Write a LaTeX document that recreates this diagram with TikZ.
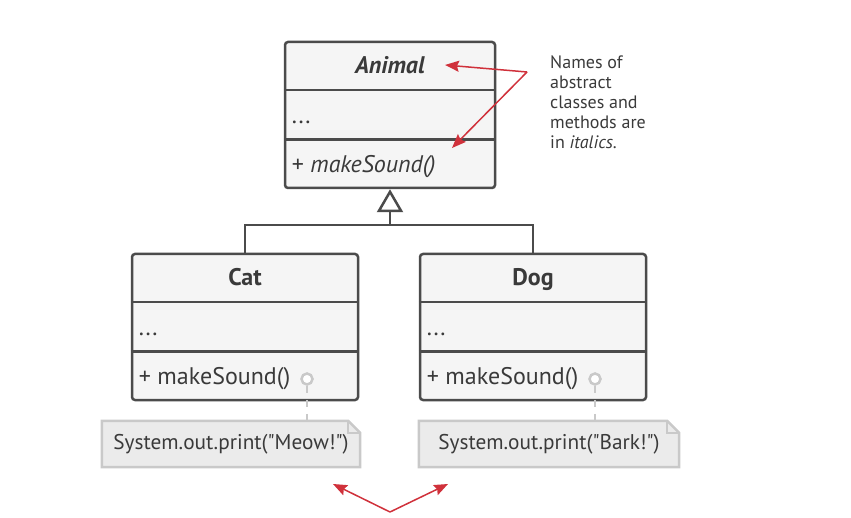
\documentclass[tikz,border=0pt]{standalone}
\usepackage{fontspec}
\setmainfont{PT Sans}
\usetikzlibrary{arrows.meta,backgrounds,calc}
\definecolor{umlline}{HTML}{4B4B4B}
\definecolor{boxfill}{HTML}{F5F5F5}
\definecolor{notefill}{HTML}{EBEBEB}
\definecolor{noteline}{HTML}{C9C9C9}
\definecolor{hintred}{HTML}{D0313B}
\definecolor{textgray}{HTML}{3A3A3A}

\begin{document}
\begin{tikzpicture}[x=1pt,y=-1pt,
    every node/.style={font=\fontsize{24}{28}\selectfont,text=textgray},
    classbox/.style={draw=umlline,fill=boxfill,line width=2.5pt,rounded corners=3pt,
        minimum height=146pt,inner sep=0pt},
    divider/.style={draw=umlline,line width=2.5pt},
    title/.style={inner sep=0pt,text height=17pt,text depth=5pt,yshift=-2.5pt},
    member/.style={anchor=west,inner sep=0pt,xshift=8pt,yshift=-2.5pt,text height=17pt,text depth=5pt},
    notebox/.style={minimum height=46pt,inner sep=0pt,font=\fontsize{21.3}{24}\selectfont},
    noteshape/.style={draw=noteline,fill=notefill,line width=2.5pt,line join=miter},
    port/.style={circle,draw=noteline,fill=white,line width=2.5pt,minimum size=11pt,inner sep=0pt},
    notelink/.style={draw=noteline,line width=2.5pt,dash pattern=on 7pt off 7pt},
    inherit/.style={draw=umlline,line width=2.5pt},
    hint/.style={draw=hintred,line width=1.5pt,-{Stealth[length=14pt,width=11pt,inset=2pt]}}
]
\useasboundingbox (0,0) rectangle (851,518);

% classes
\node[classbox,minimum width=210pt] (animal) at (390,115) {};
\node[classbox,minimum width=226pt] (cat) at (245,327) {};
\node[classbox,minimum width=226pt] (dog) at (533,327) {};

\foreach \c in {animal,cat,dog} {
    \draw[divider] ($(\c.north west)!1/3!(\c.south west)$) -- ($(\c.north east)!1/3!(\c.south east)$);
    \draw[divider] ($(\c.north west)!2/3!(\c.south west)$) -- ($(\c.north east)!2/3!(\c.south east)$);
}

\node[title] (animaltitle) at ($(animal.north)!1/6!(animal.south)$) {\textbf{\textit{Animal}}};
\node[member] (animalfields) at ($(animal.north west)!1/2!(animal.south west)$) {...};
\node[member] (animalmethod) at ($(animal.north west)!5/6!(animal.south west)$) {+ \textit{makeSound()}};

\node[title] (cattitle) at ($(cat.north)!1/6!(cat.south)$) {\textbf{Cat}};
\node[member] (catfields) at ($(cat.north west)!1/2!(cat.south west)$) {...};
\node[member] (catmethod) at ($(cat.north west)!5/6!(cat.south west)$) {+ makeSound()};

\node[title] (dogtitle) at ($(dog.north)!1/6!(dog.south)$) {\textbf{Dog}};
\node[member] (dogfields) at ($(dog.north west)!1/2!(dog.south west)$) {...};
\node[member] (dogmethod) at ($(dog.north west)!5/6!(dog.south west)$) {+ makeSound()};

% inheritance
\coordinate (join) at (390,225);
\draw[inherit] (cat.north) |- (join) -| (dog.north);
\draw[inherit,-{Triangle[open,length=23pt,width=26pt,fill=white]}] (join) -- (animal.south);

% notes
\node[notebox,minimum width=258pt] (catnote) at (231,444) {System.out.print(\textquotedbl Meow!\textquotedbl)};
\node[notebox,minimum width=260pt] (dognote) at (549,444) {System.out.print(\textquotedbl Bark!\textquotedbl)};
\begin{scope}[on background layer]
\foreach \n in {catnote,dognote} {
    \draw[noteshape] (\n.south west) |- ($(\n.north east)+(-12,0)$) -- ($(\n.north east)+(0,12)$) |- cycle;
    \draw[draw=noteline,line width=1.5pt] ($(\n.north east)+(-12,0)$) |- ($(\n.north east)+(0,12)$);
}
\end{scope}

\node[port] (catport) at (307,379) {};
\node[port] (dogport) at (595,379) {};
\draw[notelink] (catport) -- (catport |- catnote.north);
\draw[notelink] (dogport) -- (dogport |- dognote.north);

% hints
\node[anchor=north west,align=left,inner sep=0pt,font=\fontsize{18}{19.8}\selectfont] (italicnote) at (550,56)
    {Names of\\abstract\\classes and\\methods are\\in \textit{italics}.};
\coordinate (italicfrom) at (527,72);
\draw[hint] (italicfrom) -- (445,65);
\draw[hint] (italicfrom) -- (452,148);

\coordinate (samefrom) at (390,512);
\draw[hint] (samefrom) -- (333,484);
\draw[hint] (samefrom) -- (448,484);
\end{tikzpicture}
\end{document}
